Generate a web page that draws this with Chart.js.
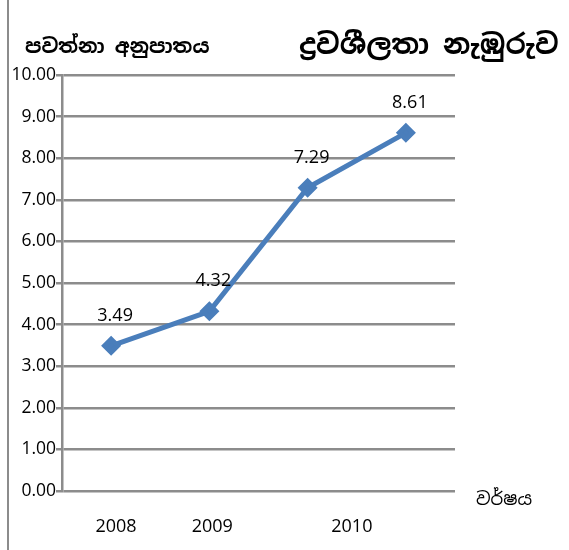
<!DOCTYPE html>
<html>
<head>
<meta charset="utf-8">
<script src="https://cdn.jsdelivr.net/npm/chart.js@4/dist/chart.umd.min.js"></script>
<style>
  html, body { margin: 0; padding: 0; background: #ffffff; }
  #wrap { width: 569px; height: 550px; position: relative; }
</style>
</head>
<body>
<div id="wrap"><canvas id="c" width="569" height="550"></canvas></div>
<script>
// ---- data ----
const years = ["2008", "2009", "2010"];
const ratios = [3.49, 4.32, 7.29, 8.61];
const yTicks = [0, 1, 2, 3, 4, 5, 6, 7, 8, 9, 10];
const chartTitle = "ද්‍රවශීලතා නැඹුරුව";
const yAxisTitle = "පවත්නා අනුපාතය";
const xAxisTitle = "වර්ෂය";

// where each year label sits along the category axis (as in the original picture)
const yearSlots = [0.05, 1.03, 2.45];

const FONT = "'Open Sans', 'Liberation Sans', 'Noto Sans', sans-serif";
const SIN = "'Noto Sans Sinhala', 'Iskoola Pota', 'Noto Sans', sans-serif";

const decor = {
  id: 'decor',
  afterDraw(chart) {
    const ctx = chart.ctx;
    ctx.save();
    // left frame line
    ctx.strokeStyle = '#8c8c8c';
    ctx.lineWidth = 2;
    ctx.beginPath();
    ctx.moveTo(8, 0);
    ctx.lineTo(8, 550);
    ctx.stroke();

    // titles
    ctx.fillStyle = '#000';
    ctx.textBaseline = 'middle';
    ctx.textAlign = 'left';
    ctx.font = "bold 20px " + SIN;
    ctx.fillText(yAxisTitle, 25, 47);
    ctx.font = "bold 28px " + SIN;
    ctx.fillText(chartTitle, 299, 46);
    ctx.font = "18px " + SIN;
    ctx.fillText(xAxisTitle, 476, 500);

    // data labels
    const meta = chart.getDatasetMeta(0);
    ctx.font = "18px " + FONT;
    ctx.textAlign = 'center';
    meta.data.forEach((pt, i) => {
      ctx.fillText(ratios[i].toFixed(2), pt.x + 4, pt.y - 30);
    });
    ctx.restore();
  }
};

new Chart(document.getElementById('c'), {
  type: 'line',
  data: {
    datasets: [{
      data: ratios.map((v, i) => ({ x: i, y: v })),
      borderColor: '#4a7ebb',
      backgroundColor: '#4a7ebb',
      borderWidth: 5,
      pointStyle: 'rectRot',
      pointRadius: 6.5,
      pointHoverRadius: 6.5,
      tension: 0,
      fill: false
    }]
  },
  options: {
    responsive: false,
    animation: false,
    devicePixelRatio: 1,
    layout: { padding: { top: 75, right: 114, left: 0, bottom: 0 } },
    plugins: { legend: { display: false }, tooltip: { enabled: false }, title: { display: false } },
    scales: {
      x: {
        type: 'linear',
        min: -0.5,
        max: ratios.length - 0.5,
        afterBuildTicks(scale) {
          scale.ticks = yearSlots.map(v => ({ value: v }));
        },
        afterFit(scale) { scale.height = 59; },
        grid: { display: false },
        border: { display: false },
        ticks: {
          padding: 17,
          maxRotation: 0,
          autoSkip: false,
          color: '#000',
          font: { family: FONT, size: 18 },
          callback(value, index) { return years[index]; }
        }
      },
      y: {
        min: 0,
        max: 10,
        afterBuildTicks(scale) {
          scale.ticks = yTicks.map(v => ({ value: v }));
        },
        afterFit(scale) { scale.width = 62; },
        grid: { color: '#8c8c8c', lineWidth: 2.5, tickLength: 6, drawTicks: true },
        border: { display: true, color: '#8c8c8c', width: 2.5 },
        ticks: {
          padding: 0,
          color: '#000',
          font: { family: FONT, size: 17.5 },
          callback(v) { return Number(v).toFixed(2); }
        }
      }
    }
  },
  plugins: [decor]
});
</script>
</body>
</html>
